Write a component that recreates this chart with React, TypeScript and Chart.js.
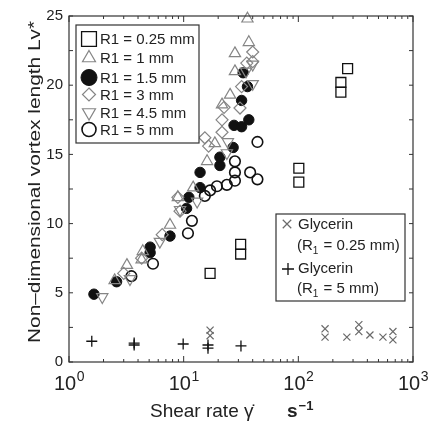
import React, { useEffect, useRef } from "react";
import { Chart, registerables } from "chart.js";

Chart.register(...registerables);

const FONT = '"Liberation Sans", Arial, Helvetica, sans-serif';

// ---- axis ticks / labels ----
const xDecades = [1, 10, 100, 1000];
const xExponents = ["0", "1", "2", "3"];
const yLabelStep = 5;
const yMinorStep = 2.5;
const xTitle = "Shear rate \u03B3\u0307";
const xUnit = "s";
const xUnitExp = "\u22121";
const yTitle = "Non\u2013dimensional vortex length Lv*";

// ---- series: [shear rate, Lv*] ----
const r1_025mm: [number, number][] = [
  [17, 6.4], [31.4, 8.5], [31.4, 7.8], [101, 14.0], [101, 13.0],
  [235, 20.2], [235, 19.5], [269, 21.2],
];
const r1_1mm: [number, number][] = [
  [2.5, 5.9], [3.2, 7.0], [4.3, 7.4], [4.4, 8.0], [7.6, 9.9], [8.9, 11.9],
  [12.1, 12.6], [16, 14.5], [18.7, 15.8], [21.6, 18.6], [25.4, 19.3],
  [28, 21.0], [28, 22.3], [37, 23.1], [36, 24.8],
];
const r1_15mm: [number, number][] = [
  [1.65, 4.9], [2.6, 5.8], [5.1, 7.9], [5.1, 8.3], [7.6, 9.1], [10.6, 11.1],
  [11.1, 11.9], [13.9, 12.6], [13.9, 13.7], [20.7, 14.2], [20.7, 14.8],
  [27, 15.5], [27.5, 17.1], [32, 17.0], [37, 17.5], [32, 18.9], [36, 19.9],
  [33, 20.9],
];
const r1_3mm: [number, number][] = [
  [3.0, 6.4], [4.3, 7.5], [6.5, 9.2], [8.9, 11.9], [9.3, 10.9], [15.3, 16.2],
  [16.5, 15.6], [21.6, 16.6], [21.6, 17.5], [22.5, 18.4], [31, 18.35],
  [32, 19.9], [35.5, 21.6], [40, 21.7], [40, 22.4],
];
const r1_45mm: [number, number][] = [
  [1.95, 4.7], [3.4, 6.0], [6.2, 8.7], [9.3, 11.0], [13.1, 11.6],
  [23.8, 15.1], [24.3, 15.9], [35, 21.0], [40, 20.1], [40, 21.5],
];
const r1_5mm: [number, number][] = [
  [3.5, 6.2], [5.4, 7.1], [10.9, 9.3], [11.8, 10.2], [15.3, 12.0], [17, 12.4],
  [19.5, 12.7], [23.8, 12.8], [28, 13.1], [28, 13.7], [28, 14.5], [38, 13.7],
  [44, 13.2], [44, 15.9],
];
const glycerin025: [number, number][] = [
  [17, 2.3], [17, 1.9], [171, 2.4], [171, 1.8], [265, 1.8], [337, 2.7],
  [337, 2.2], [421, 1.95], [547, 1.8], [668, 2.2], [668, 1.6],
];
const glycerin5: [number, number][] = [
  [1.58, 1.5], [3.7, 1.37], [3.7, 1.23], [9.9, 1.3], [16.3, 1.23],
  [16.3, 1.0], [31.6, 1.16],
];

const legend1Labels = ["R1 = 0.25 mm", "R1 = 1 mm", "R1 = 1.5 mm", "R1 = 3 mm", "R1 = 4.5 mm", "R1 = 5 mm"];
const legend2Labels = ["Glycerin", "0.25 mm", "Glycerin", "5 mm"];

const BLACK = "#111111";
const GRAY = "#858585";

type Mk = { style: string; color: string; fill: string; r: number; rot: number; lw: number };
const markers: Mk[] = [
  { style: "rect", color: BLACK, fill: "rgba(0,0,0,0)", r: 7, rot: 0, lw: 1.3 },
  { style: "triangle", color: GRAY, fill: "rgba(0,0,0,0)", r: 6.5, rot: 0, lw: 1.2 },
  { style: "circle", color: BLACK, fill: BLACK, r: 5.2, rot: 0, lw: 1 },
  { style: "rectRot", color: GRAY, fill: "rgba(0,0,0,0)", r: 6, rot: 0, lw: 1.2 },
  { style: "triangle", color: GRAY, fill: "rgba(0,0,0,0)", r: 6.5, rot: 180, lw: 1.2 },
  { style: "circle", color: BLACK, fill: "rgba(0,0,0,0)", r: 5.3, rot: 0, lw: 1.6 },
  { style: "crossRot", color: "#6a6a6a", fill: "rgba(0,0,0,0)", r: 5, rot: 0, lw: 1.2 },
  { style: "cross", color: BLACK, fill: "rgba(0,0,0,0)", r: 5.5, rot: 0, lw: 1.3 },
];

function drawMarker(ctx: CanvasRenderingContext2D, m: Mk, x: number, y: number, r: number) {
  ctx.save();
  ctx.lineWidth = m.lw;
  ctx.strokeStyle = m.color;
  ctx.fillStyle = m.fill;
  ctx.beginPath();
  if (m.style === "rect") {
    const s = r * Math.SQRT1_2;
    ctx.rect(x - s, y - s, 2 * s, 2 * s);
    ctx.fill(); ctx.stroke();
  } else if (m.style === "circle") {
    ctx.arc(x, y, r, 0, Math.PI * 2);
    ctx.fill(); ctx.stroke();
  } else if (m.style === "triangle") {
    const sgn = m.rot === 180 ? -1 : 1;
    for (let i = 0; i < 3; i++) {
      const a = (i * 2 * Math.PI) / 3;
      const px = x + Math.sin(a) * r * sgn;
      const py = y - Math.cos(a) * r * sgn;
      if (i === 0) ctx.moveTo(px, py); else ctx.lineTo(px, py);
    }
    ctx.closePath();
    ctx.stroke();
  } else if (m.style === "rectRot") {
    ctx.moveTo(x, y - r); ctx.lineTo(x + r, y); ctx.lineTo(x, y + r); ctx.lineTo(x - r, y);
    ctx.closePath(); ctx.stroke();
  } else if (m.style === "crossRot") {
    const s = r * Math.SQRT1_2;
    ctx.moveTo(x - s, y - s); ctx.lineTo(x + s, y + s);
    ctx.moveTo(x + s, y - s); ctx.lineTo(x - s, y + s);
    ctx.stroke();
  } else if (m.style === "cross") {
    ctx.moveTo(x - r, y); ctx.lineTo(x + r, y);
    ctx.moveTo(x, y - r); ctx.lineTo(x, y + r);
    ctx.stroke();
  }
  ctx.restore();
}

const decorPlugin = {
  id: "decor",
  afterDraw(chart: any) {
    const ctx: CanvasRenderingContext2D = chart.ctx;
    const { left, right, top, bottom } = chart.chartArea;
    const xs = chart.scales.x;
    const ys = chart.scales.y;
    ctx.save();
    // frame
    ctx.strokeStyle = "#333";
    ctx.lineWidth = 1.2;
    ctx.strokeRect(left, top, right - left, bottom - top);
    // x ticks (inward, top and bottom)
    ctx.lineWidth = 1;
    ctx.beginPath();
    for (let d = 0; d < xDecades.length; d++) {
      const px = xs.getPixelForValue(xDecades[d]);
      ctx.moveTo(px, bottom); ctx.lineTo(px, bottom - 6);
      ctx.moveTo(px, top); ctx.lineTo(px, top + 6);
      if (d < xDecades.length - 1) {
        for (let m = 2; m <= 9; m++) {
          const p = xs.getPixelForValue(xDecades[d] * m);
          ctx.moveTo(p, bottom); ctx.lineTo(p, bottom - 3);
          ctx.moveTo(p, top); ctx.lineTo(p, top + 3);
        }
      }
    }
    // y ticks (inward, left and right)
    for (let v = 0; v <= 25 + 1e-9; v += yMinorStep) {
      const py = ys.getPixelForValue(v);
      ctx.moveTo(left, py); ctx.lineTo(left + 4, py);
      ctx.moveTo(right, py); ctx.lineTo(right - 4, py);
    }
    ctx.stroke();

    // x tick labels 10^n
    ctx.fillStyle = "#222";
    ctx.textBaseline = "alphabetic";
    ctx.textAlign = "left";
    for (let i = 0; i < xDecades.length; i++) {
      const px = xs.getPixelForValue(xDecades[i]);
      ctx.font = `20px ${FONT}`;
      const wb = ctx.measureText("10").width;
      ctx.font = `14px ${FONT}`;
      const we = ctx.measureText(xExponents[i]).width;
      const x0 = px - (wb + we) / 2;
      ctx.font = `20px ${FONT}`;
      ctx.fillText("10", x0, bottom + 28);
      ctx.font = `14px ${FONT}`;
      ctx.fillText(xExponents[i], x0 + wb + 0.5, bottom + 19);
    }

    // x title
    ctx.font = `19px ${FONT}`;
    ctx.fillText(xTitle, 150, bottom + 55);
    ctx.font = `bold 19px ${FONT}`;
    ctx.fillText(xUnit, 287, bottom + 55);
    const ws = ctx.measureText(xUnit).width;
    ctx.font = `bold 13px ${FONT}`;
    ctx.fillText(xUnitExp, 287 + ws + 1, bottom + 48);

    // y title
    ctx.save();
    ctx.translate(40, 182);
    ctx.rotate(-Math.PI / 2);
    ctx.font = `16px ${FONT}`;
    const tw = ctx.measureText(yTitle).width;
    ctx.scale(322 / tw, 1);
    ctx.textAlign = "center";
    ctx.fillText(yTitle, 0, 0);
    ctx.restore();

    // legend 1
    const l1 = { x: 76, y: 25, w: 123, h: 118 };
    ctx.fillStyle = "#fff";
    ctx.fillRect(l1.x, l1.y, l1.w, l1.h);
    ctx.strokeStyle = "#333";
    ctx.lineWidth = 1.2;
    ctx.strokeRect(l1.x, l1.y, l1.w, l1.h);
    const rows1 = [39, 58, 77.5, 94.5, 112.5, 129.5];
    const lr = [10.5, 7.5, 8, 6.5, 7.5, 7];
    ctx.font = `15px ${FONT}`;
    ctx.textBaseline = "middle";
    ctx.textAlign = "left";
    for (let i = 0; i < 6; i++) {
      drawMarker(ctx, markers[i], 89, rows1[i], lr[i]);
      ctx.fillStyle = "#222";
      ctx.fillText(legend1Labels[i], 100, rows1[i] + 1);
    }

    // legend 2
    const l2 = { x: 276, y: 214, w: 129, h: 87 };
    ctx.fillStyle = "#fff";
    ctx.fillRect(l2.x, l2.y, l2.w, l2.h);
    ctx.strokeStyle = "#333";
    ctx.strokeRect(l2.x, l2.y, l2.w, l2.h);
    drawMarker(ctx, markers[6], 287, 224, 6);
    drawMarker(ctx, markers[7], 288, 269, 6);
    ctx.fillStyle = "#222";
    ctx.font = `15px ${FONT}`;
    ctx.fillText(legend2Labels[0], 298, 225);
    ctx.fillText(legend2Labels[2], 298, 269);
    const sub = (x: number, y: number, val: string) => {
      ctx.font = `15px ${FONT}`;
      ctx.fillText("(R", x, y);
      let cx = x + ctx.measureText("(R").width;
      ctx.font = `10px ${FONT}`;
      ctx.fillText("1", cx, y + 5);
      cx += ctx.measureText("1").width + 1;
      ctx.font = `15px ${FONT}`;
      ctx.fillText(" = " + val + ")", cx, y);
    };
    sub(297, 246, legend2Labels[1]);
    sub(297, 289, legend2Labels[3]);
    ctx.restore();
  },
};

const seriesList: [number, number][][] = [r1_025mm, r1_1mm, r1_3mm, r1_45mm, r1_15mm, r1_5mm, glycerin025, glycerin5];
const seriesMarker = [0, 1, 3, 4, 2, 5, 6, 7];

export default function App() {
  const ref = useRef<HTMLCanvasElement | null>(null);
  useEffect(() => {
    if (!ref.current) return;
    const datasets = seriesList.map((s, i) => {
      const m = markers[seriesMarker[i]];
      return {
        data: s.map(([x, y]) => ({ x, y })),
        pointStyle: m.style as any,
        pointRotation: m.rot,
        pointRadius: m.r,
        pointBorderColor: m.color,
        pointBackgroundColor: m.fill,
        pointBorderWidth: m.lw,
        showLine: false,
        clip: false as any,
      };
    });
    const chart = new Chart(ref.current, {
      type: "scatter",
      data: { datasets },
      options: {
        animation: false,
        responsive: true,
        maintainAspectRatio: false,
        layout: { padding: { left: 8, top: 16, right: 17, bottom: 0 } },
        plugins: { legend: { display: false }, tooltip: { enabled: false } },
        scales: {
          x: {
            type: "logarithmic",
            min: 1,
            max: 1000,
            grid: { display: false },
            border: { display: false },
            ticks: { display: false },
            afterFit: (s: any) => { s.height = 62; },
          },
          y: {
            min: 0,
            max: 25,
            grid: { display: false, drawTicks: false },
            border: { display: false },
            ticks: {
              stepSize: yLabelStep,
              padding: 6,
              color: "#222",
              font: { family: FONT, size: 15 },
            },
            afterFit: (s: any) => { s.width = 61; },
          },
        },
      },
      plugins: [decorPlugin],
    });
    return () => chart.destroy();
  }, []);
  return (
    <div style={{ position: "fixed", left: 0, top: 0, width: 430, height: 424, background: "#fff" }}>
      <canvas ref={ref} />
    </div>
  );
}
